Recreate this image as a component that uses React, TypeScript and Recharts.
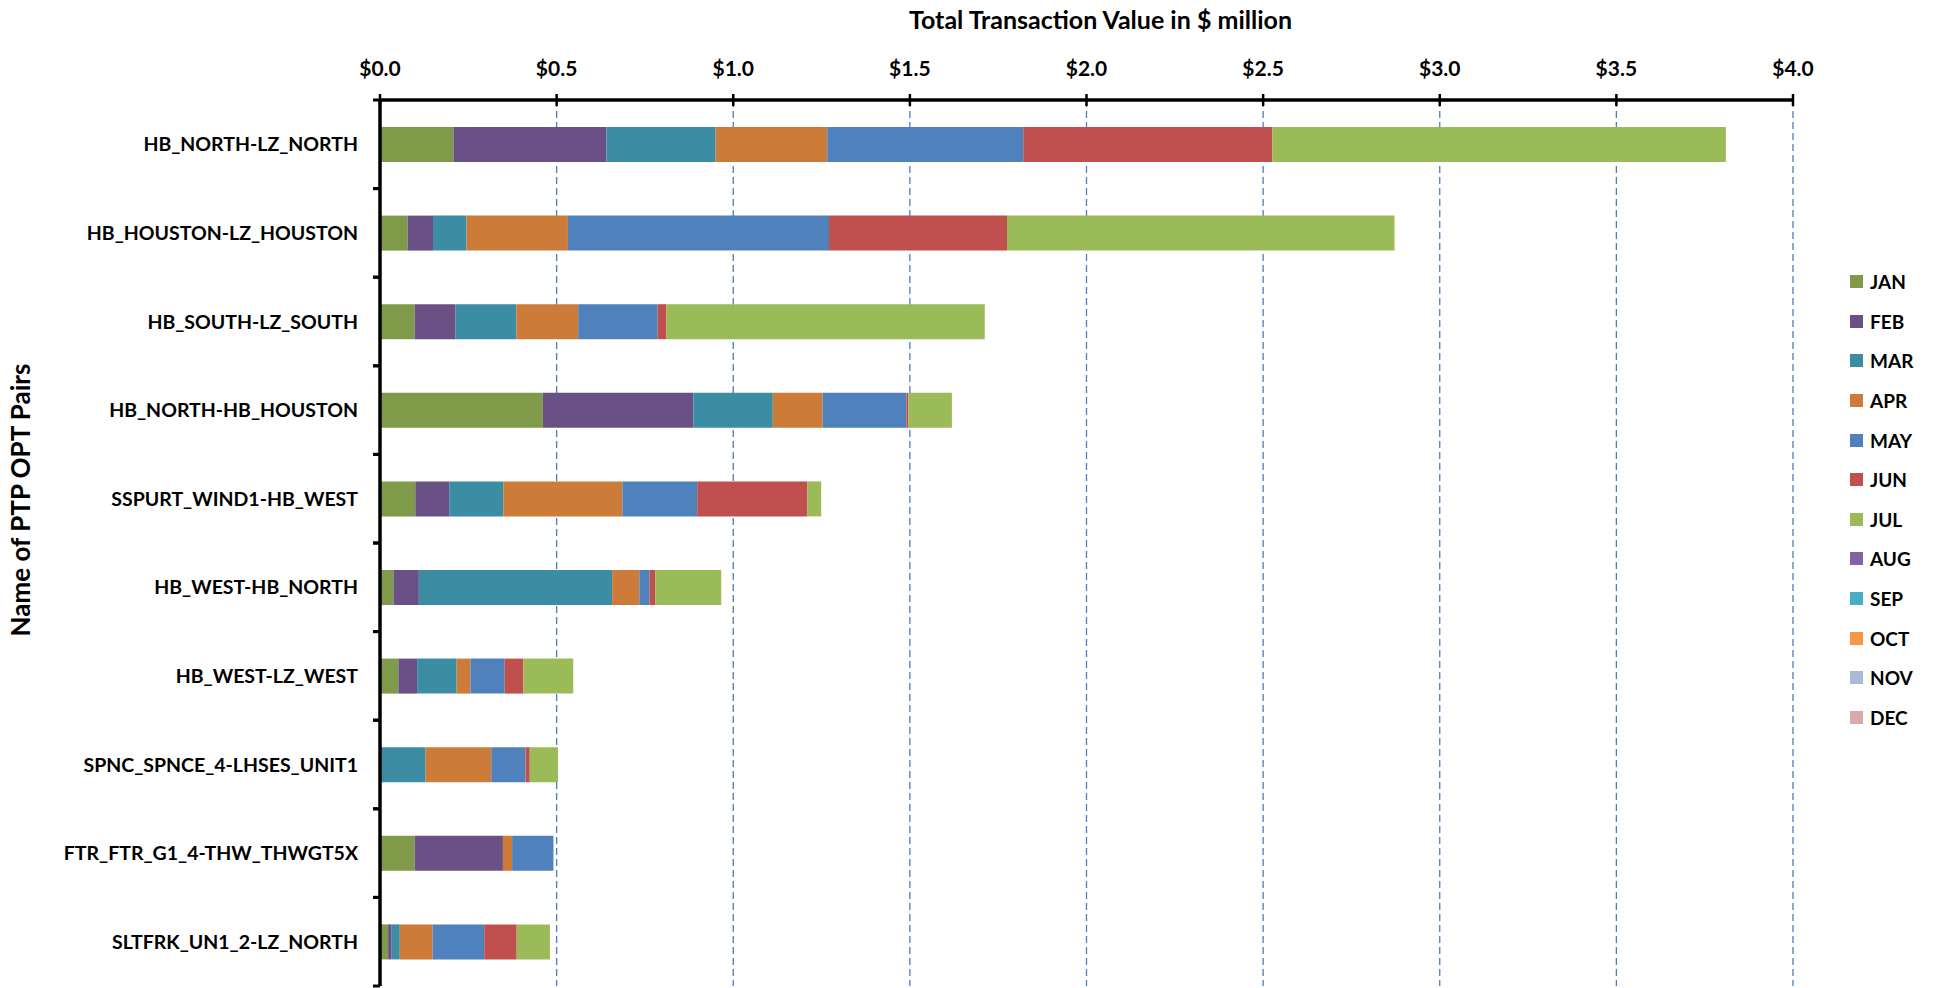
import React from "react";
import { BarChart, Bar, XAxis, YAxis, CartesianGrid, Label } from "recharts";

// PTP obligation pairs, top to bottom
const pairs = [
  "HB_NORTH-LZ_NORTH",
  "HB_HOUSTON-LZ_HOUSTON",
  "HB_SOUTH-LZ_SOUTH",
  "HB_NORTH-HB_HOUSTON",
  "SSPURT_WIND1-HB_WEST",
  "HB_WEST-HB_NORTH",
  "HB_WEST-LZ_WEST",
  "SPNC_SPNCE_4-LHSES_UNIT1",
  "FTR_FTR_G1_4-THW_THWGT5X",
  "SLTFRK_UN1_2-LZ_NORTH",
];

// monthly transaction value, $ million
const jan = [0.208, 0.078, 0.098, 0.461, 0.1, 0.038, 0.052, 0, 0.098, 0.023];
const feb = [0.433, 0.072, 0.116, 0.426, 0.096, 0.072, 0.053, 0, 0.25, 0.01];
const mar = [0.309, 0.095, 0.172, 0.225, 0.153, 0.547, 0.112, 0.129, 0, 0.023];
const apr = [0.316, 0.287, 0.175, 0.141, 0.337, 0.077, 0.039, 0.186, 0.026, 0.093];
const may = [0.555, 0.739, 0.225, 0.237, 0.212, 0.029, 0.097, 0.097, 0.117, 0.146];
const jun = [0.705, 0.504, 0.025, 0.006, 0.312, 0.016, 0.053, 0.012, 0, 0.092];
const jul = [1.284, 1.097, 0.901, 0.123, 0.039, 0.187, 0.141, 0.08, 0, 0.094];
const aug = [0, 0, 0, 0, 0, 0, 0, 0, 0, 0];
const sep = [0, 0, 0, 0, 0, 0, 0, 0, 0, 0];
const oct = [0, 0, 0, 0, 0, 0, 0, 0, 0, 0];
const nov = [0, 0, 0, 0, 0, 0, 0, 0, 0, 0];
const dec = [0, 0, 0, 0, 0, 0, 0, 0, 0, 0];

const months = ["JAN", "FEB", "MAR", "APR", "MAY", "JUN", "JUL", "AUG", "SEP", "OCT", "NOV", "DEC"];
const monthValues = [jan, feb, mar, apr, may, jun, jul, aug, sep, oct, nov, dec];
const monthColors = [
  "#7f9a48", "#6a5185", "#3c8ca3", "#cc7b38", "#4f81bd", "#c0504d",
  "#9bbb59", "#8064a2", "#4bacc6", "#f79646", "#aabad7", "#d9aaa9",
];

const valueTicks = [0, 0.5, 1, 1.5, 2, 2.5, 3, 3.5, 4];

const data = pairs.map((pair, i) => {
  const row: Record<string, string | number> = { pair };
  months.forEach((m, j) => {
    row[m] = monthValues[j][i];
  });
  return row;
});

const W = 1933;
const H = 988;
const margin = { top: 60, right: 140, bottom: 2, left: 80 };
const X_AXIS_H = 40;
const Y_AXIS_W = 300;
const plotH = H - margin.top - X_AXIS_H - margin.bottom;
const halfBand = plotH / pairs.length / 2;

const FONT = "Lato, 'Open Sans', sans-serif";

function XTick(props: any) {
  const { x, y, payload } = props;
  return (
    <g>
      <line x1={x} x2={x} y1={y - 6} y2={y + 6} stroke="#000" strokeWidth={2.5} />
      <text x={x} y={y - 24} textAnchor="middle" fontFamily={FONT} fontWeight={700} fontSize={21} fill="#000">
        {`$${Number(payload.value).toFixed(1)}`}
      </text>
    </g>
  );
}

function YTick(props: any) {
  const { x, y, payload } = props;
  return (
    <g>
      <line x1={x - 7} x2={x} y1={y - halfBand} y2={y - halfBand} stroke="#000" strokeWidth={3} />
      <line x1={x - 7} x2={x} y1={y + halfBand} y2={y + halfBand} stroke="#000" strokeWidth={3} />
      <text x={x - 22} y={y + 7} textAnchor="end" fontFamily={FONT} fontWeight={700} fontSize={19.5} fill="#000">
        {payload.value}
      </text>
    </g>
  );
}

export default function App() {
  return (
    <div style={{ position: "absolute", left: 0, top: 0, width: W, height: H, background: "#fff" }}>
      <BarChart width={W} height={H} data={data} layout="vertical" margin={margin}>
        <CartesianGrid horizontal={false} stroke="#4a7ebb" strokeDasharray="7 4" strokeWidth={1.3} />
        <XAxis
          type="number"
          orientation="top"
          domain={[0, 4]}
          ticks={valueTicks}
          height={X_AXIS_H}
          tickSize={0}
          tickMargin={0}
          tickLine={false}
          tick={<XTick />}
          axisLine={{ stroke: "#000", strokeWidth: 3.5 }}
        >
          <Label
            value="Total Transaction Value in $ million"
            position="top"
            offset={31}
            dx={14}
            style={{ fontFamily: FONT, fontWeight: 700, fontSize: 25, fill: "#000" }}
          />
        </XAxis>
        <YAxis
          type="category"
          dataKey="pair"
          width={Y_AXIS_W}
          tickSize={0}
          tickMargin={0}
          tickLine={false}
          tick={<YTick />}
          interval={0}
          axisLine={{ stroke: "#000", strokeWidth: 3.5 }}
        >
          <Label
            content={() => (
              <text
                x={20}
                y={500}
                transform="rotate(-90 20 500)"
                textAnchor="middle"
                dominantBaseline="central"
                fontFamily={FONT}
                fontWeight={700}
                fontSize={26}
                fill="#000"
              >
                Name of PTP OPT Pairs
              </text>
            )}
          />
        </YAxis>
        {months.map((m, j) => (
          <Bar key={m} dataKey={m} stackId="total" fill={monthColors[j]} barSize={35} isAnimationActive={false} />
        ))}
      </BarChart>
      <div style={{ position: "absolute", left: 1850, top: 262, fontFamily: FONT, fontWeight: 700, fontSize: 19 }}>
        {months.map((m, j) => (
          <div key={m} style={{ height: 39.6, display: "flex", alignItems: "center" }}>
            <span style={{ width: 13, height: 13, background: monthColors[j], marginRight: 7, display: "inline-block" }} />
            <span>{m}</span>
          </div>
        ))}
      </div>
    </div>
  );
}
